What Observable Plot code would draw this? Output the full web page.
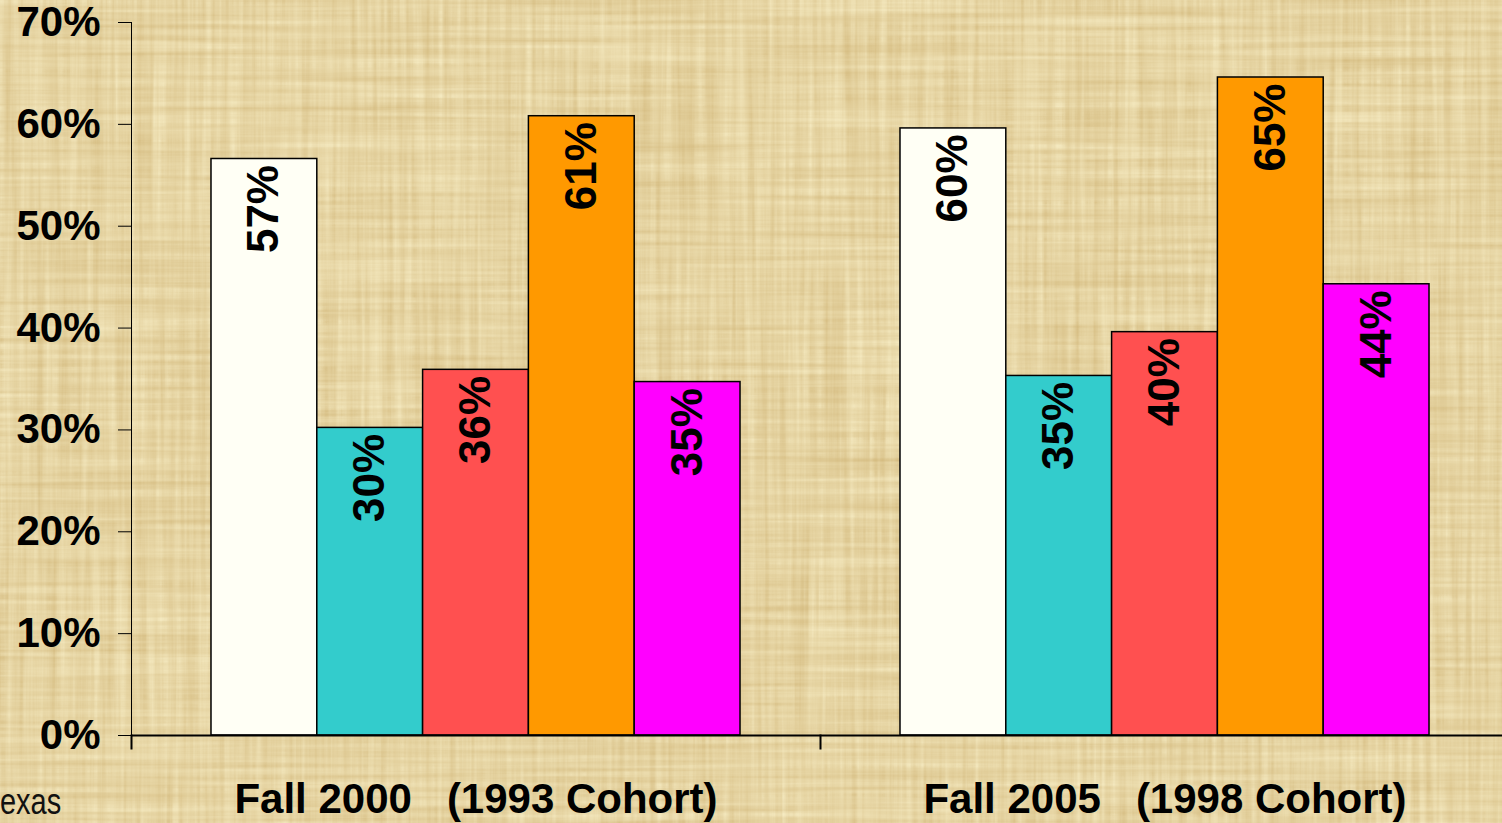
<!DOCTYPE html>
<html>
<head>
<meta charset="utf-8">
<script src="https://cdn.jsdelivr.net/npm/d3@7"></script>
<script src="https://cdn.jsdelivr.net/npm/@observablehq/plot@0.6"></script>
<style>
  html, body { margin: 0; padding: 0; width: 1502px; height: 823px; overflow: hidden; }
  body { position: relative; background: #e7d3a2; font-family: "Liberation Sans", Arial, sans-serif; }
  #bg { position: absolute; left: 0; top: 0; }
  #chart { position: absolute; left: 0; top: 0; }
</style>
</head>
<body>
<svg id="bg" width="1502" height="823">
  <filter id="paper" x="0" y="0" width="100%" height="100%" color-interpolation-filters="sRGB">
    <feTurbulence type="fractalNoise" baseFrequency="0.004 0.16" numOctaves="3" seed="4" result="h"/>
    <feTurbulence type="fractalNoise" baseFrequency="0.16 0.004" numOctaves="3" seed="11" result="v"/>
    <feComposite in="h" in2="v" operator="arithmetic" k2="0.5" k3="0.5" result="m"/>
    <feColorMatrix in="m" type="matrix" values="0.18 0 0 0 0.81  0.26 0 0 0 0.70  0.36 0 0 0 0.455  0 0 0 0 1"/>
  </filter>
  <rect width="1502" height="823" fill="#e7d3a2"/>
  <rect width="1502" height="823" filter="url(#paper)"/>
  <text transform="translate(0,814) scale(1,1.25)" font-family="'Liberation Sans', Arial, sans-serif" font-size="29" fill="#111">exas</text>
</svg>
<div id="chart"></div>
<script>
// ---- data ----
const groups = ["Fall 2000", "Fall 2005"];
const cohorts = ["(1993 Cohort)", "(1998 Cohort)"];
const series = ["Series 1", "Series 2", "Series 3", "Series 4", "Series 5"];
const values2000 = [56.6, 30.2, 35.9, 60.8, 34.7];
const values2005 = [59.6, 35.3, 39.6, 64.6, 44.3];
const seriesColors = ["#fffff5", "#33cccc", "#ff5050", "#ff9900", "#ff00ff"];
const yTicks = [0, 10, 20, 30, 40, 50, 60, 70];

const valuesByGroup = [values2000, values2005];
const data = groups.flatMap((g, i) =>
  series.map((s, j) => ({group: g, series: s, value: valuesByGroup[i][j]}))
);

const chart = Plot.plot({
  width: 1502,
  height: 823,
  marginTop: 22,
  marginBottom: 88,
  marginLeft: 131,
  marginRight: 0,
  style: {
    background: "transparent",
    fontFamily: "'Liberation Sans', Arial, sans-serif",
    fontWeight: "bold",
    fontSize: "42px",
    color: "black",
    overflow: "visible"
  },
  fx: {
    domain: groups,
    range: [131, 1509],
    padding: 0,
    round: false,
    label: null,
    axis: "bottom",
    tickSize: 0,
    tickPadding: 48,
    tickFormat: g => g + "\u00a0\u00a0\u00a0" + cohorts[groups.indexOf(g)]
  },
  x: {domain: series, axis: null, round: false, paddingInner: 0, paddingOuter: 0.756},
  y: {
    domain: [0, 70],
    ticks: yTicks,
    tickFormat: d => d + "%",
    tickSize: 13,
    tickPadding: 18,
    label: null,
    line: true
  },
  color: {domain: series, range: seriesColors},
  marks: [
    Plot.barY(data, {fx: "group", x: "series", y: "value", fill: "series", stroke: "black", strokeWidth: 1.5}),
    Plot.text(data, {
      fx: "group", x: "series", y: "value",
      text: d => d3.format(".0f")(d.value) + "%",
      rotate: -90, textAnchor: "end", lineAnchor: "middle",
      dy: 6, fontSize: 44, fontWeight: "bold", fill: "black"
    }),
    Plot.ruleY([0], {stroke: "black", strokeWidth: 2}),
    Plot.frame({anchor: "left", insetTop: 713, insetBottom: -13, stroke: "black", strokeWidth: 2})
  ]
});
document.getElementById("chart").appendChild(chart);
</script>
</body>
</html>
